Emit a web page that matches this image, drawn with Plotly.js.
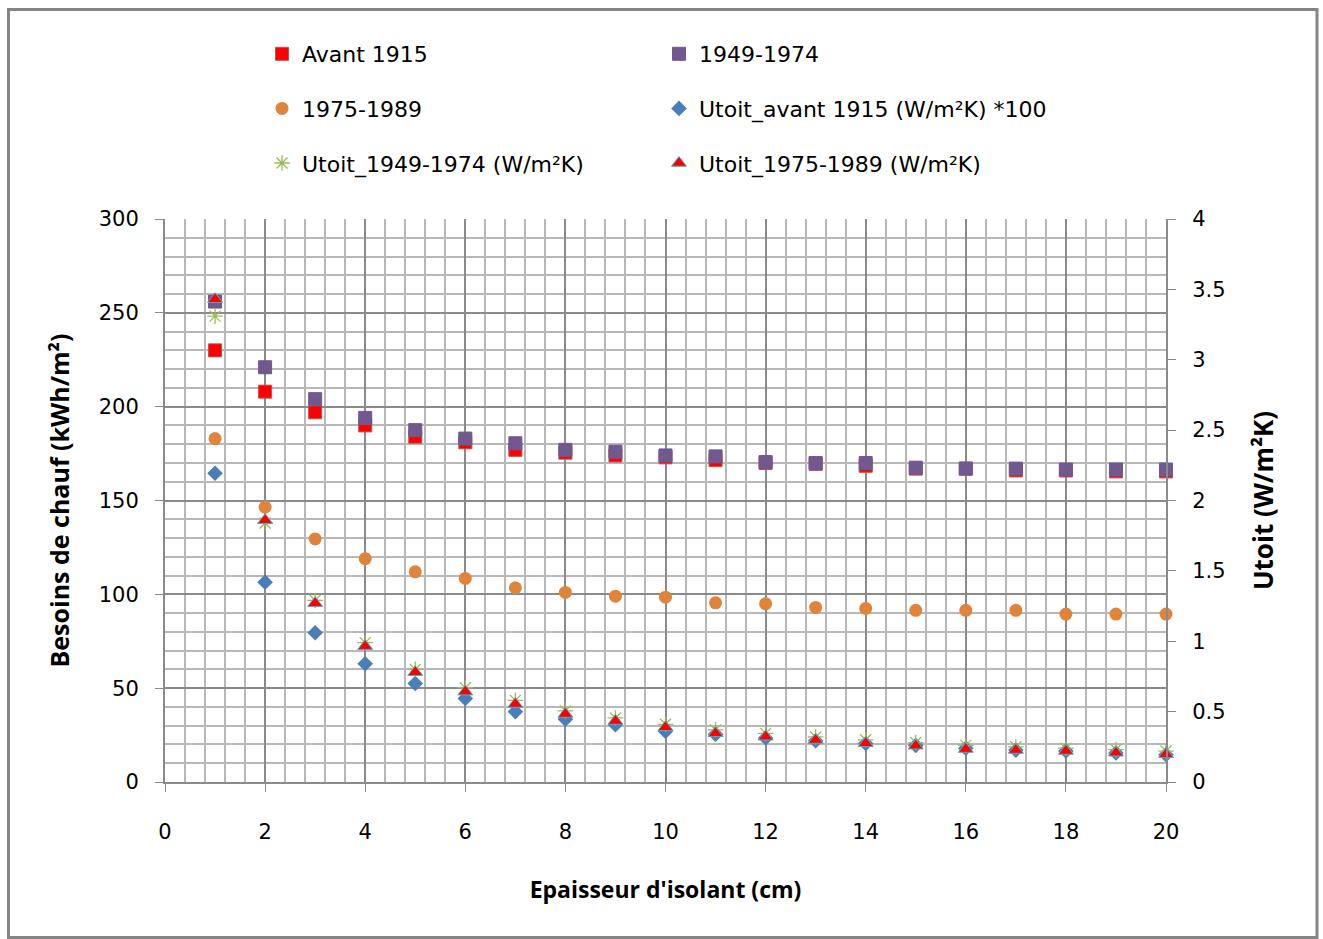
<!DOCTYPE html>
<html>
<head>
<meta charset="utf-8">
<script src="https://cdn.plot.ly/plotly-3.0.1.min.js"></script>
<style>
html,body{margin:0;padding:0;background:#fff;}
#chart{width:1323px;height:939px;}
</style>
</head>
<body>
<div id="chart"></div>
<script>
// Epaisseur d'isolant (cm)
const epaisseur = [1,2,3,4,5,6,7,8,9,10,11,12,13,14,15,16,17,18,19,20];
// Besoins de chauffage (kWh/m²) - left axis
const avant1915 = [230,208,197,190,184,181,177,175.5,174,173,171.5,170,169.5,168.5,167,167,166,166,165.5,165.5];
const p1949_1974 = [256,221,204,194,187.5,183,180.5,177,176,174,173.5,170.5,170,170,167.5,167,167,166.5,166.5,166.5];
const p1975_1989 = [183,146.5,129.5,119,112,108.5,103.5,101,99,98.5,95.5,95,93,92.5,91.5,91.5,91.5,89.5,89.5,89.5];
// Utoit avant 1915 * 100 - left axis
const utoitAvant1915x100 = [164.5,106.5,79.5,63,52.5,44.5,37.5,33.5,30.5,27,25.5,23.5,22,20.5,19.5,18,17,16.5,15.5,14.5];
// Utoit (W/m²K) - right axis
const utoit1949_1974 = [3.31,1.84,1.29,0.99,0.80,0.67,0.58,0.505,0.455,0.41,0.37,0.345,0.32,0.30,0.28,0.26,0.25,0.24,0.23,0.22];
const utoit1975_1989 = [3.43,1.86,1.27,0.965,0.78,0.642,0.554,0.483,0.433,0.389,0.346,0.322,0.298,0.275,0.258,0.234,0.227,0.220,0.208,0.197];

const seriesNames = ["Avant 1915","1949-1974","1975-1989","Utoit_avant 1915 (W/m²K) *100","Utoit_1949-1974 (W/m²K)","Utoit_1975-1989 (W/m²K)"];

const TFONT = "DejaVu Sans, sans-serif";
const BFONT = "Open Sans, DejaVu Sans, sans-serif";

const common = {type:'scatter', mode:'markers', cliponaxis:false};
const traces = [
  Object.assign({x: epaisseur, y: avant1915, name: seriesNames[0], legend:'legend', legendgroup:'a',
   marker:{symbol:'square', size:13, color:'#ff0000', line:{color:'#c0504d', width:1}}}, common),
  Object.assign({x: epaisseur, y: p1949_1974, name: seriesNames[1], legend:'legend2', legendgroup:'b',
   marker:{symbol:'square', size:13, color:'#71588f', line:{color:'#71588f', width:1}}}, common),
  Object.assign({x: epaisseur, y: p1975_1989, name: seriesNames[2], legend:'legend', legendgroup:'c',
   marker:{symbol:'circle', size:13, color:'#e0843c', line:{color:'#e0843c', width:0}}}, common),
  Object.assign({x: epaisseur, y: utoitAvant1915x100, name: seriesNames[3], legend:'legend2', legendgroup:'d',
   marker:{symbol:'diamond', size:12, color:'#4a7ebb', line:{color:'#4a7ebb', width:0}}}, common),
  Object.assign({x: epaisseur, y: utoit1949_1974, name: seriesNames[4], yaxis:'y2', legend:'legend', legendgroup:'e',
   marker:{symbol:'asterisk-open', size:13, color:'#9bbb59', line:{color:'#9bbb59', width:1.3}}}, common),
  Object.assign({x: epaisseur, y: utoit1975_1989, name: seriesNames[5], yaxis:'y2', legend:'legend2', legendgroup:'f',
   marker:{symbol:'triangle-up', size:13, color:'#ff0000', line:{color:'#4bacc6', width:1}}}, common)
];

const L = 165, R = 1166, T = 219, B = 782;
const W = R - L, H = B - T;
const px2x = p => (p - L) / W;
const py2y = p => (B - p) / H;

const tickFont = {family: TFONT, size: 21, color: '#000'};

const layout = {
  width: 1323, height: 939,
  margin: {l: L, r: 1323 - R, t: T, b: 939 - B, pad: 0},
  paper_bgcolor: '#ffffff', plot_bgcolor: '#ffffff',
  showlegend: true,
  xaxis: {
    range: [0, 20], dtick: 2, tick0: 0, fixedrange: true,
    showgrid: true, gridcolor: '#8a8a8a', gridwidth: 2,
    minor: {dtick: 0.4, showgrid: true, gridcolor: '#b8b8b8', gridwidth: 2},
    showline: true, linecolor: '#8a8a8a', linewidth: 2,
    ticks: 'outside', ticklen: 8, tickcolor: '#8a8a8a', tickwidth: 1,
    ticklabelstandoff: 22,
    zeroline: false, tickfont: tickFont,
    title: {text: "Epaisseur d'isolant (cm)", font: {family: BFONT, size: 23, color: '#000', weight: 'bold'}, standoff: 39}
  },
  yaxis: {
    range: [0, 300], dtick: 50, tick0: 0, fixedrange: true,
    showgrid: true, gridcolor: '#8a8a8a', gridwidth: 2,
    minor: {dtick: 10, showgrid: true, gridcolor: '#b8b8b8', gridwidth: 2},
    showline: true, linecolor: '#8a8a8a', linewidth: 2,
    ticks: 'outside', ticklen: 8, tickcolor: '#8a8a8a', tickwidth: 1,
    ticklabelstandoff: 12,
    zeroline: false, tickfont: tickFont,
    title: {text: "Besoins de chauf (kWh/m²)", font: {family: BFONT, size: 25, color: '#000', weight: 'bold'}, standoff: 22}
  },
  yaxis2: {
    range: [0, 4], dtick: 0.5, tick0: 0, overlaying: 'y', side: 'right', fixedrange: true,
    showgrid: false, zeroline: false,
    showline: true, linecolor: '#8a8a8a', linewidth: 2,
    ticks: 'outside', ticklen: 8, tickcolor: '#8a8a8a', tickwidth: 1,
    ticklabelstandoff: 12,
    tickfont: tickFont,
    title: {text: "Utoit (W/m²K)", font: {family: BFONT, size: 26, color: '#000', weight: 'bold'}, standoff: 30}
  },
  legend: {
    x: px2x(262), y: py2y(33), xanchor: 'left', yanchor: 'top',
    bgcolor: 'rgba(0,0,0,0)', font: {family: TFONT, size: 22, color: '#000'},
    tracegroupgap: 23, itemwidth: 30, orientation: 'v'
  },
  legend2: {
    x: px2x(659), y: py2y(33), xanchor: 'left', yanchor: 'top',
    bgcolor: 'rgba(0,0,0,0)', font: {family: TFONT, size: 22, color: '#000'},
    tracegroupgap: 23, itemwidth: 30, orientation: 'v'
  },
  shapes: [
    {type: 'rect', xref: 'paper', yref: 'paper',
     x0: px2x(8.5), x1: px2x(1317), y0: py2y(937.5), y1: py2y(9.5),
     line: {color: '#858585', width: 3}, fillcolor: 'rgba(0,0,0,0)', layer: 'below'}
  ]
};

Plotly.newPlot('chart', traces, layout, {displayModeBar: false, staticPlot: true});
</script>
</body>
</html>
